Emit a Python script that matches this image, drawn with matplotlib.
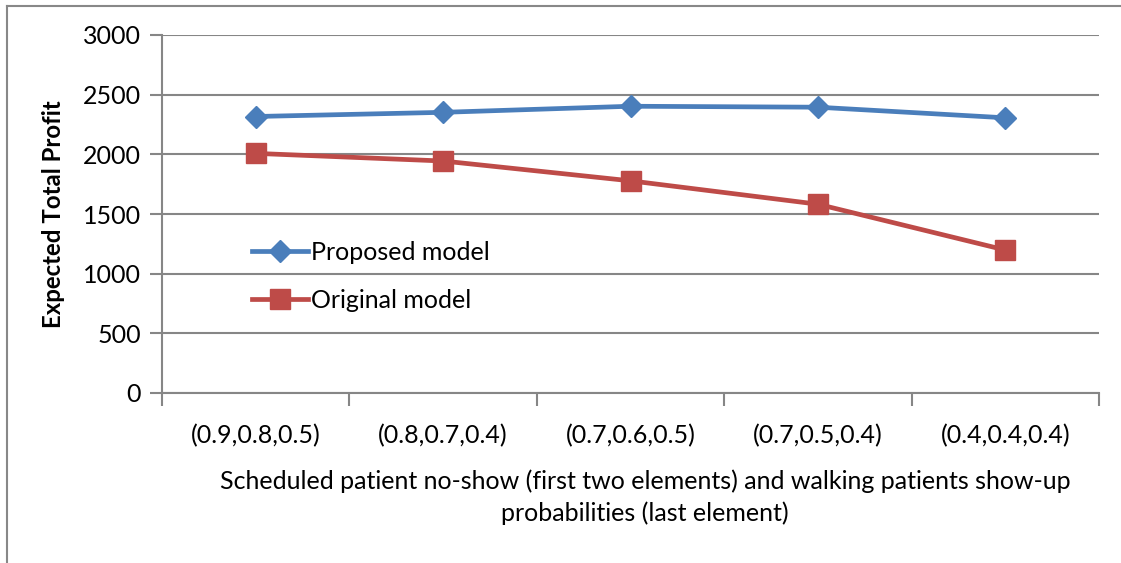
import matplotlib
matplotlib.use("Agg")
import matplotlib.pyplot as plt
from matplotlib.lines import Line2D

categories = ["(0.9,0.8,0.5)", "(0.8,0.7,0.4)", "(0.7,0.6,0.5)", "(0.7,0.5,0.4)", "(0.4,0.4,0.4)"]
proposed = [2317, 2352, 2403, 2395, 2306]
original = [2008, 1944, 1778, 1582, 1198]
yticks = [0, 500, 1000, 1500, 2000, 2500, 3000]
xlabel_text = ("Scheduled patient no-show (first two elements) and walking patients show-up\n"
               "probabilities (last element)")

plt.rcParams['font.family'] = ['Lato', 'DejaVu Sans']

W, H = 1121, 563
fig = plt.figure(figsize=(W / 100, H / 100), dpi=100)
ax = fig.add_axes([162 / W, 1 - 393 / H, (1099 - 162) / W, (393 - 35) / H])

grid_c = '#868686'
blue = '#4A7EBB'
red = '#BE4B48'
fs = 18

x = list(range(len(categories)))
ax.plot(x, proposed, color=blue, lw=3.4, marker='D', markersize=11.5, label='Proposed model', zorder=3)
ax.plot(x, original, color=red, lw=3.4, marker='s', markersize=14, label='Original model', zorder=3)

ax.set_xlim(-0.5, len(categories) - 0.5)
ax.set_ylim(0, 3000)
ax.set_yticks(yticks)
ax.set_yticklabels([str(v) for v in yticks], fontsize=fs)
ax.yaxis.grid(True, color=grid_c, lw=1.5)
ax.set_axisbelow(True)

# x ticks at category boundaries, labels at centers
ax.set_xticks([i - 0.5 for i in range(len(categories) + 1)])
ax.set_xticklabels([])
ax.set_xticks(x, minor=True)
ax.set_xticklabels(categories, minor=True, fontsize=fs)
ax.tick_params(axis='x', which='minor', length=0, pad=22)
ax.tick_params(axis='x', which='major', length=9, width=1.5, color=grid_c, direction='out')
ax.tick_params(axis='y', length=9, width=1.5, color=grid_c, direction='out', pad=6)

for s in ['top', 'right']:
    ax.spines[s].set_visible(False)
for s in ['left', 'bottom']:
    ax.spines[s].set_color(grid_c)
    ax.spines[s].set_linewidth(1.5)

ax.set_ylabel('Expected Total Profit', fontsize=17.3, fontweight='bold', labelpad=13)

# x-axis title (centered a little right of the plot centre, as in the reference)
fig.text(645 / W, 1 - 497 / H, xlabel_text, fontsize=fs, ha='center', va='center',
         multialignment='center', linespacing=1.4)

leg = ax.legend(loc='upper left', bbox_to_anchor=(0.085, 0.452), frameon=False, fontsize=fs,
                handlelength=2.25, labelspacing=1.0, handletextpad=0.12, borderaxespad=0)

# outer chart border
fig.add_artist(Line2D([7 / W, 7 / W], [0, 1 - 6 / H], color='#888888', lw=1.5, transform=fig.transFigure))
fig.add_artist(Line2D([7 / W, 1], [1 - 6 / H, 1 - 6 / H], color='#888888', lw=1.5, transform=fig.transFigure))

fig.savefig('out.png', dpi=100)
